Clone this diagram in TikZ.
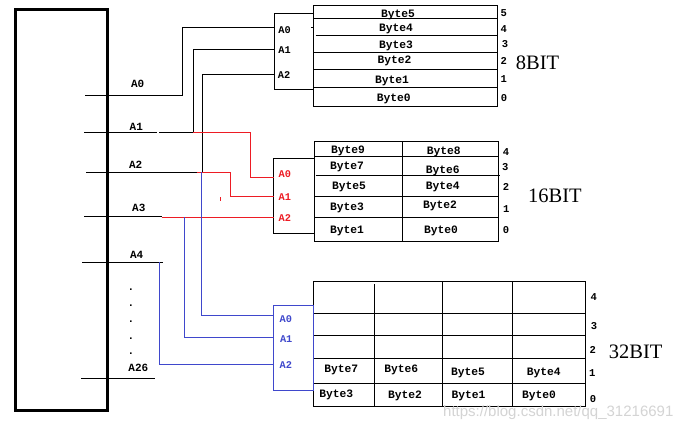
\documentclass[tikz,border=0pt]{standalone}
\usepackage{fontspec}
\setmainfont{Liberation Serif}
\setmonofont{Liberation Mono}
\setsansfont{Liberation Sans}
\definecolor{wred}{RGB}{237,28,36}
\definecolor{wblue}{RGB}{63,72,204}
\definecolor{wmark}{RGB}{212,212,212}
\begin{document}
\begin{tikzpicture}[x=1pt,y=-1pt,
  wire/.style={line width=1pt},
  grid/.style={line width=1pt},
  bytelab/.style={inner sep=0pt, font=\ttfamily\bfseries\fontsize{11.3}{12}\selectfont},
  pinlab/.style={inner sep=0pt, font=\ttfamily\bfseries\fontsize{10.3}{11}\selectfont},
  cpulab/.style={inner sep=0pt, font=\ttfamily\bfseries\fontsize{11}{12}\selectfont},
  rowlab/.style={inner sep=0pt, font=\ttfamily\bfseries\fontsize{10.5}{11}\selectfont},
  bitlab/.style={inner sep=0pt, font=\rmfamily\fontsize{20.5}{22}\selectfont},
]
\useasboundingbox[fill=white] (0,0) rectangle (684,428);

% ---------- CPU box ----------
\draw[line width=3pt] (15.3,9.7) rectangle (107.3,410.7);

% CPU pin coordinates
\coordinate (pA0) at (85,95.3);
\coordinate (pA1) at (84,132.3);
\coordinate (pA2) at (86,172.3);
\coordinate (pA3) at (84,216.3);
\coordinate (pA4) at (82,262.3);
\coordinate (pA26) at (81,378.3);

% CPU labels
\node[cpulab] (lA0) at (137.7,83.8) {A0};
\node[cpulab] (lA1) at (136.3,127) {A1};
\node[cpulab] (lA2) at (135.7,165.2) {A2};
\node[cpulab] (lA3) at (138.8,207.5) {A3};
\node[cpulab] (lA4) at (136.7,255.3) {A4};
\node[cpulab] (lA26) at (138.3,368.2) {A26};
\foreach \yy/\nm in {290/d1,305.7/d2,322/d3,338.3/d4,354/d5}
  \node[cpulab] (\nm) at (131,\yy) {.};

% ---------- 8 bit ----------
\draw[grid] (313.3,5.3) rectangle (497.3,106);
\foreach \yy in {18.3,52.3,69,87.3} \draw[grid] (313.3,\yy) -- (497.3,\yy);
\draw[grid] (315.7,35.7) -- (497.3,35.7);
\draw[grid] (313.3,14) -- (274.3,14) -- (274.3,89) -- (313.3,89);
\draw[wire] (311,27.5) -- (313.3,27.5);
\coordinate (i8a0) at (274.3,27.7);
\coordinate (i8a1) at (274.3,49.3);
\coordinate (i8a2) at (274.3,74);
\node[pinlab] (e8a0) at (284.5,29.7) {A0};
\node[pinlab] (e8a1) at (284.5,50.3) {A1};
\node[pinlab] (e8a2) at (284,75.5) {A2};
\node[bytelab] (e8b5) at (398,15) {Byte5};
\node[bytelab] (e8b4) at (396,29) {Byte4};
\node[bytelab] (e8b3) at (396,46) {Byte3};
\node[bytelab] (e8b2) at (394.5,61) {Byte2};
\node[bytelab] (e8b1) at (392,80.7) {Byte1};
\node[bytelab] (e8b0) at (393.7,99) {Byte0};
\node[rowlab] (e8r5) at (503.7,13) {5};
\node[rowlab] (e8r4) at (503.7,28.7) {4};
\node[rowlab] (e8r3) at (505,43.7) {3};
\node[rowlab] (e8r2) at (503.7,61) {2};
\node[rowlab] (e8r1) at (503.7,78.7) {1};
\node[rowlab] (e8r0) at (504,98) {0};
\node[bitlab] (t8) at (537.5,62.5) {8BIT};

% ---------- 16 bit ----------
\draw[grid] (314.3,141.7) rectangle (498.3,241);
\draw[grid] (402.3,141.7) -- (402.3,241);
\foreach \yy in {156,196,217.7} \draw[grid] (314.3,\yy) -- (498.3,\yy);
\draw[grid] (315.7,175.3) -- (500,175.3);
\draw[grid] (314.3,158.3) -- (273.7,158.3) -- (273.7,233.3) -- (314.3,233.3);
\coordinate (i16a0) at (273.7,177.3);
\coordinate (i16a1) at (273.7,196.3);
\coordinate (i16a2) at (273.7,217.3);
\node[pinlab,text=wred] (e16a0) at (284.8,174.5) {A0};
\node[pinlab,text=wred] (e16a1) at (284.8,197.2) {A1};
\node[pinlab,text=wred] (e16a2) at (284.8,217.7) {A2};
\node[bytelab] (f9) at (348,150.7) {Byte9};
\node[bytelab] (f8) at (443.7,151.7) {Byte8};
\node[bytelab] (f7) at (347,167.3) {Byte7};
\node[bytelab] (f6) at (442.7,170.7) {Byte6};
\node[bytelab] (f5) at (349,187.3) {Byte5};
\node[bytelab] (f4) at (442.7,187.3) {Byte4};
\node[bytelab] (f3) at (347,208.3) {Byte3};
\node[bytelab] (f2) at (440,206) {Byte2};
\node[bytelab] (f1) at (347,231) {Byte1};
\node[bytelab] (f0) at (441,231) {Byte0};
\node[rowlab] (e16r4) at (506,152) {4};
\node[rowlab] (e16r3) at (505.3,167.2) {3};
\node[rowlab] (e16r2) at (506,187) {2};
\node[rowlab] (e16r1) at (506.3,208.7) {1};
\node[rowlab] (e16r0) at (506,229.7) {0};
\node[bitlab] (t16) at (555,195.5) {16BIT};

% ---------- 32 bit ----------
\draw[grid] (313.3,281) rectangle (585.3,406);
\draw[grid] (374.3,284.3) -- (374.3,406);
\draw[grid] (442.5,281) -- (442.5,406);
\draw[grid] (512.5,281) -- (512.5,406);
\foreach \yy in {313.3,335.3,358.3,383.3} \draw[grid] (313.3,\yy) -- (585.3,\yy);
\draw[grid,wblue] (273.3,305.3) rectangle (313.3,390);
\coordinate (i32a0) at (273.3,315);
\coordinate (i32a1) at (273.3,337);
\coordinate (i32a2) at (273.3,364);
\node[pinlab,text=wblue] (e32a0) at (285.8,319.2) {A0};
\node[pinlab,text=wblue] (e32a1) at (286.2,339.2) {A1};
\node[pinlab,text=wblue] (e32a2) at (285.8,365.2) {A2};
\node[bytelab] (g7) at (341.2,370.3) {Byte7};
\node[bytelab] (g6) at (401.2,370.3) {Byte6};
\node[bytelab] (g5) at (468,372.8) {Byte5};
\node[bytelab] (g4) at (543.8,372.8) {Byte4};
\node[bytelab] (g3) at (336.2,395.3) {Byte3};
\node[bytelab] (g2) at (405,396.2) {Byte2};
\node[bytelab] (g1) at (468.5,396) {Byte1};
\node[bytelab] (g0) at (539,396) {Byte0};
\node[rowlab] (e32r4) at (593.7,297.2) {4};
\node[rowlab] (e32r3) at (594,326.2) {3};
\node[rowlab] (e32r2) at (592.8,350) {2};
\node[rowlab] (e32r1) at (592.2,373.2) {1};
\node[rowlab] (e32r0) at (593,399.3) {0};
\node[bitlab] (t32) at (635.7,351.7) {32BIT};

% ---------- wires ----------
% black: 8 bit
\draw[wire] (pA0) -- (182,95.3) |- (i8a0);
\draw[wire] (pA1) -- (156.7,132.3);
\draw[wire] (159.3,132.3) -- (193.3,132.3) |- (i8a1);
\draw[wire] (pA2) -- (196.7,172.3);
\draw[wire] (202.3,172.3) |- (i8a2);
\draw[wire] (pA3) -- (161.7,216.3);
\draw[wire] (pA4) -- (162.7,262.3);
\draw[wire] (pA26) -- (155,378.3);
% red: 16 bit
\draw[wire,wred] (193.3,132.3) -- (250.3,132.3) |- (i16a0);
\draw[wire,wred] (196.7,172.3) -- (230,172.3) |- (i16a1);
\draw[wire,wred] (161.7,217.3) -- (i16a2);
\draw[wire,wred] (220,197.3) -- (220,200.7);
% blue: 32 bit
\draw[wire,wblue] (201.5,172.3) |- (i32a0);
\draw[wire,wblue] (184.3,217.3) |- (i32a1);
\draw[wire,wblue] (159.3,262.3) |- (i32a2);

% watermark
\node[anchor=base west, inner sep=0pt, text height=10.5pt, text=wmark, font=\sffamily\fontsize{15}{16}\selectfont] (wm) at (443,416.3) {https://blog.csdn.net/qq\_31216691};
\end{tikzpicture}
\end{document}
